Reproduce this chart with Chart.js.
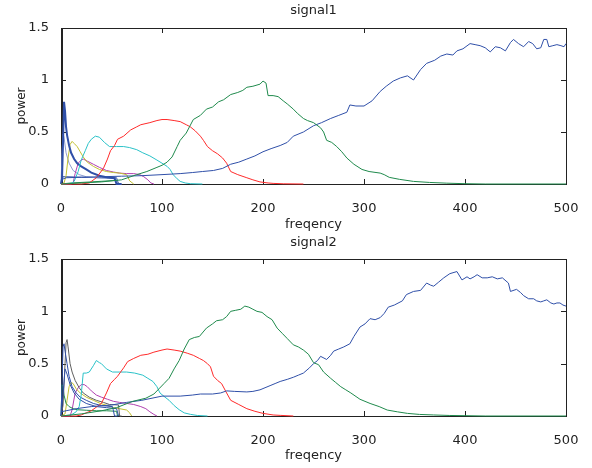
<!DOCTYPE html>
<html>
<head>
<meta charset="utf-8">
<script src="https://cdn.jsdelivr.net/npm/chart.js@4/dist/chart.umd.min.js"></script>
<style>
  body { margin: 0; background: #fff; }
  .box { position: absolute; left: 0; width: 592px; height: 234px; }
</style>
</head>
<body>
<div class="box" style="top:0"><canvas id="signal1-chart"></canvas></div>
<div class="box" style="top:234px"><canvas id="signal2-chart"></canvas></div>
<script>
// axis ticks
const freqTicks = [0, 100, 200, 300, 400, 500];
const powerTicks = [0, 0.5, 1, 1.5];

// ---- signal1 ----
const s1GreenFreq = [0,20,40,60,75,85,95,100,105,110,115,118,124,131,138,144,150,156,161,168,175,180,184,190,197,200,203,205,210,215,220,224,230,234,240,244,250,257,260,263,268,273,278,283,290,298,305,316,320,325,335,349,365,382,400,420,500];
const s1GreenPower = [0,0.01,0.02,0.04,0.09,0.12,0.16,0.18,0.21,0.26,0.36,0.42,0.49,0.62,0.66,0.72,0.74,0.79,0.81,0.86,0.88,0.90,0.93,0.94,0.96,0.99,0.97,0.85,0.85,0.84,0.80,0.77,0.72,0.68,0.63,0.61,0.59,0.54,0.50,0.42,0.40,0.36,0.31,0.25,0.19,0.14,0.12,0.105,0.09,0.064,0.045,0.025,0.015,0.008,0.003,0,0];

const s1BlueFreq = [0,5,20,40,60,80,100,118,130,140,151,160,168,176,184,192,200,208,217,224,230,240,250,258,267,275,283,286,292,300,308,316,322,329,336,343,349,356,362,370,376,382,388,392,398,405,410,415,420,425,430,435,440,445,448,453,458,463,467,471,475,478,481,483,487,491,495,498,500];
const s1BluePower = [0.04,0.06,0.065,0.07,0.075,0.08,0.09,0.10,0.11,0.12,0.13,0.15,0.19,0.21,0.24,0.27,0.31,0.34,0.37,0.40,0.46,0.50,0.56,0.59,0.63,0.66,0.69,0.76,0.75,0.75,0.80,0.89,0.94,0.99,1.02,1.04,1.00,1.10,1.16,1.19,1.23,1.25,1.24,1.28,1.30,1.35,1.34,1.33,1.31,1.27,1.32,1.31,1.28,1.36,1.39,1.35,1.32,1.37,1.35,1.30,1.31,1.39,1.39,1.32,1.33,1.34,1.33,1.32,1.35];

const s1RedFreq = [0,20,28,35,42,46,49,53,56,62,69,75,79,88,95,100,105,112,118,124,128,133,138,141,145,150,155,160,164,168,175,184,190,197,205,210,220,240];
const s1RedPower = [0,0,0.01,0.06,0.15,0.24,0.32,0.37,0.43,0.46,0.52,0.55,0.57,0.59,0.61,0.62,0.62,0.61,0.60,0.57,0.55,0.51,0.46,0.42,0.36,0.32,0.29,0.25,0.20,0.12,0.09,0.06,0.04,0.02,0.01,0.006,0.002,0];

const s1CyanFreq = [0,10,13,17,20,24,27,30,34,38,43,48,55,62,68,75,81,88,95,100,105,108,111,115,118,123,128,140];
const s1CyanPower = [0,0.005,0.025,0.12,0.23,0.32,0.39,0.43,0.46,0.45,0.40,0.36,0.36,0.36,0.35,0.33,0.30,0.27,0.23,0.20,0.17,0.14,0.09,0.05,0.025,0.01,0.003,0];

const s1SpikeFreq = [0,1,2,3,4,5,6,8,10,13,16,20,25,30,38,45,53,55,60];
const s1SpikePower = [0,0.05,0.4,0.79,0.7,0.55,0.47,0.37,0.30,0.24,0.20,0.17,0.14,0.11,0.08,0.065,0.055,0,0];

const s1YellowFreq = [0,3,5,7,9,11,13,16,19,22,26,32,38,45,52,58,65,68,72];
const s1YellowPower = [0,0.01,0.08,0.25,0.38,0.41,0.39,0.36,0.31,0.26,0.21,0.17,0.14,0.12,0.11,0.105,0.09,0.03,0];

const s1MagentaFreq = [0,10,12,14,17,20,22,26,32,38,45,52,58,65,72,78,82,86,89,92];
const s1MagentaPower = [0,0,0.01,0.1,0.2,0.23,0.24,0.22,0.19,0.16,0.13,0.115,0.105,0.10,0.10,0.09,0.07,0.04,0.01,0];

const s1PaleFreq = [0,1,2,3,5,8,12,18,25,35,45,55,56,60];
const s1PalePower = [0,0.3,0.48,0.45,0.3,0.2,0.13,0.09,0.07,0.06,0.055,0.05,0,0];

const s1FlatFreq = [0,2,5,20,40,55,57];
const s1FlatPower = [0,0.07,0.07,0.065,0.06,0.06,0];

const s1LowGreenFreq = [0,10,30,55,57];
const s1LowGreenPower = [0,0.01,0.02,0.035,0];

// ---- signal2 ----
const s2GreenFreq = [0,20,40,55,71,84,92,97,102,107,112,117,122,127,132,137,144,150,154,160,164,168,173,178,182,186,190,194,199,204,209,214,219,224,230,235,240,245,250,255,260,267,272,277,282,287,296,306,315,323,333,343,355,369,385,400,420,500];
const s2GreenPower = [0,0.02,0.05,0.08,0.14,0.17,0.21,0.26,0.31,0.36,0.45,0.53,0.64,0.73,0.75,0.76,0.84,0.88,0.91,0.92,0.95,1.00,1.01,1.02,1.05,1.04,1.02,1.00,0.99,0.95,0.92,0.84,0.79,0.74,0.68,0.66,0.63,0.59,0.51,0.49,0.42,0.36,0.32,0.28,0.25,0.22,0.16,0.12,0.09,0.057,0.04,0.025,0.015,0.01,0.005,0.003,0,0];

const s2BlueFreq = [0,5,15,30,50,65,80,100,118,130,138,150,158,164,172,184,190,197,202,207,212,217,224,230,235,240,246,250,254,257,263,267,270,275,280,286,290,296,301,306,311,316,320,324,330,338,342,349,356,362,366,369,374,379,385,392,397,402,405,409,412,417,422,427,432,437,443,445,451,455,458,463,468,471,475,478,481,485,488,491,494,497,500];
const s2BluePower = [0.04,0.05,0.07,0.09,0.105,0.13,0.15,0.19,0.19,0.20,0.21,0.21,0.22,0.24,0.235,0.23,0.235,0.25,0.27,0.29,0.31,0.33,0.35,0.37,0.39,0.41,0.46,0.50,0.53,0.57,0.54,0.58,0.62,0.64,0.66,0.69,0.76,0.85,0.88,0.93,0.92,0.94,0.98,1.04,1.06,1.10,1.16,1.19,1.20,1.27,1.25,1.24,1.28,1.32,1.36,1.38,1.30,1.33,1.31,1.33,1.35,1.32,1.32,1.33,1.31,1.32,1.27,1.19,1.21,1.18,1.15,1.12,1.12,1.10,1.09,1.10,1.11,1.08,1.07,1.08,1.08,1.06,1.05];

const s2RedFreq = [0,15,20,30,40,45,49,53,56,62,66,72,79,86,92,100,105,112,118,125,131,137,141,145,148,151,155,159,164,168,176,184,192,200,210,217,230];
const s2RedPower = [0,0,0.01,0.05,0.12,0.22,0.31,0.35,0.38,0.46,0.52,0.55,0.58,0.59,0.61,0.63,0.64,0.63,0.62,0.60,0.58,0.55,0.53,0.50,0.47,0.38,0.34,0.31,0.22,0.15,0.11,0.07,0.045,0.025,0.01,0.006,0];

const s2CyanFreq = [0,10,15,18,20,22,25,28,32,35,38,40,45,51,58,65,73,81,86,91,95,98,103,107,112,117,122,128,135,145];
const s2CyanPower = [0,0.01,0.04,0.09,0.2,0.41,0.41,0.42,0.48,0.53,0.51,0.50,0.45,0.42,0.42,0.42,0.41,0.39,0.36,0.33,0.28,0.22,0.18,0.15,0.10,0.06,0.03,0.016,0.005,0];

const s2SpikeFreq = [0,1,2,3,4,6,8,11,15,19,25,32,40,51,53,56];
const s2SpikePower = [0,0.3,0.66,0.69,0.62,0.50,0.38,0.28,0.22,0.18,0.15,0.12,0.10,0.09,0,0];

const s2Blue2Freq = [0,2,4,6,9,13,18,25,35,45,55,57];
const s2Blue2Power = [0,0.2,0.45,0.4,0.3,0.22,0.16,0.12,0.09,0.08,0.07,0];

const s2GrayFreq = [0,2,4,5,6,7,9,11,14,18,22,28,35,42,48,57,58,60];
const s2GrayPower = [0,0.1,0.5,0.7,0.73,0.66,0.50,0.42,0.34,0.27,0.22,0.18,0.15,0.13,0.11,0.105,0,0];

const s2LowGreenFreq = [0,1,2,3,5,8,12,16,25,35,45,55,56];
const s2LowGreenPower = [0,0.30,0.28,0.2,0.12,0.09,0.07,0.06,0.055,0.05,0.05,0.045,0];

const s2YellowFreq = [0,4,6,8,10,12,15,19,25,32,39,46,52,58,65,68,70];
const s2YellowPower = [0,0.02,0.15,0.28,0.32,0.31,0.26,0.22,0.18,0.15,0.12,0.10,0.08,0.07,0.057,0.03,0];

const s2MagentaFreq = [0,9,11,14,17,20,23,26,30,35,40,46,52,58,65,72,79,84,88,92,95];
const s2MagentaPower = [0,0,0.06,0.22,0.27,0.30,0.30,0.28,0.24,0.2,0.18,0.16,0.14,0.13,0.12,0.11,0.09,0.07,0.04,0.015,0];

const colors = {
    blue: '#2f4fa8', green: '#1f8a4c', red: '#ff2a2a', cyan: '#2ac2c8',
    magenta: '#b040b0', yellow: '#c2c030', gray: '#606060', pale: '#8a9ad0'
};

function series(freq, power, color, width) {
    return {
        data: freq.map((f, i) => ({ x: f, y: power[i] })),
        borderColor: color,
        borderWidth: width || 1,
        pointRadius: 0,
        tension: 0,
        clip: 3
    };
}

// MATLAB style box with inward ticks
const framePlugin = {
    id: 'frame',
    beforeDatasetsDraw(chart) {
        const { ctx, chartArea: a, scales } = chart;
        ctx.save();
        ctx.strokeStyle = '#222';
        ctx.lineWidth = 1;
        ctx.strokeRect(a.left + 0.5, a.top + 0.5, a.right - a.left, a.bottom - a.top);
        ctx.lineWidth = 2;
        ctx.beginPath();
        ctx.moveTo(a.left + 1, a.top);
        ctx.lineTo(a.left + 1, a.bottom + 1);
        ctx.stroke();
        ctx.lineWidth = 1;
        ctx.beginPath();
        freqTicks.slice(1, -1).forEach(v => {
            const x = Math.round(scales.x.getPixelForValue(v)) + 0.5;
            ctx.moveTo(x, a.bottom); ctx.lineTo(x, a.bottom - 5);
            ctx.moveTo(x, a.top); ctx.lineTo(x, a.top + 5);
        });
        powerTicks.slice(1, -1).forEach(v => {
            const y = Math.round(scales.y.getPixelForValue(v)) + 0.5;
            ctx.moveTo(a.left, y); ctx.lineTo(a.left + 5, y);
            ctx.moveTo(a.right, y); ctx.lineTo(a.right - 5, y);
        });
        ctx.stroke();
        ctx.restore();
    }
};

function makeChart(canvas, title, datasets, lay) {
    return new Chart(canvas.getContext('2d'), {
        type: 'line',
        data: { datasets: datasets },
        options: {
            responsive: true,
            maintainAspectRatio: false,
            animation: false,
            layout: { padding: { left: 0, right: 26, top: lay.top, bottom: 0 } },
            plugins: {
                legend: { display: false },
                tooltip: { enabled: false },
                title: {
                    display: true, text: title, fullSize: false, color: '#222',
                    font: { family: 'DejaVu Sans', size: 13, weight: 'normal' },
                    padding: { top: lay.titleTop, bottom: lay.titleBottom }
                }
            },
            scales: {
                x: {
                    type: 'linear', min: 0, max: 500,
                    grid: { display: false }, border: { display: false },
                    afterBuildTicks: s => { s.ticks = freqTicks.map(v => ({ value: v })); },
                    afterFit: s => { s.height = lay.xHeight; },
                    ticks: { color: '#222', padding: 9, font: { family: 'DejaVu Sans', size: 13 } },
                    title: {
                        display: true, text: 'freqency', color: '#222',
                        font: { family: 'DejaVu Sans', size: 13 },
                        padding: { top: 0, bottom: lay.xTitleBottom }
                    }
                },
                y: {
                    min: 0, max: 1.5,
                    grid: { display: false }, border: { display: false },
                    afterBuildTicks: s => { s.ticks = powerTicks.map(v => ({ value: v })); },
                    afterFit: s => { s.width = 61; },
                    ticks: {
                        color: '#222', padding: 4, font: { family: 'DejaVu Sans', size: 13 },
                        callback: v => String(v)
                    },
                    title: {
                        display: true, text: 'power', color: '#222',
                        font: { family: 'DejaVu Sans', size: 12 },
                        padding: { top: 15, bottom: 0 }
                    }
                }
            }
        },
        plugins: [framePlugin]
    });
}

makeChart(document.querySelector('#signal1-chart'), 'signal1', [
    series(s1GreenFreq, s1GreenPower, colors.green),
    series(s1BlueFreq, s1BluePower, colors.blue),
    series(s1RedFreq, s1RedPower, colors.red),
    series(s1CyanFreq, s1CyanPower, colors.cyan),
    series(s1SpikeFreq, s1SpikePower, colors.blue, 2),
    series(s1YellowFreq, s1YellowPower, colors.yellow),
    series(s1MagentaFreq, s1MagentaPower, colors.magenta),
    series(s1PaleFreq, s1PalePower, colors.pale),
    series(s1FlatFreq, s1FlatPower, colors.blue),
    series(s1LowGreenFreq, s1LowGreenPower, colors.green)
], { top: 0, titleTop: 3, titleBottom: 9.4, xHeight: 50, xTitleBottom: 2 });

makeChart(document.querySelector('#signal2-chart'), 'signal2', [
    series(s2GreenFreq, s2GreenPower, colors.green),
    series(s2BlueFreq, s2BluePower, colors.blue),
    series(s2RedFreq, s2RedPower, colors.red),
    series(s2CyanFreq, s2CyanPower, colors.cyan),
    series(s2SpikeFreq, s2SpikePower, colors.blue),
    series(s2Blue2Freq, s2Blue2Power, colors.blue),
    series(s2GrayFreq, s2GrayPower, colors.gray),
    series(s2LowGreenFreq, s2LowGreenPower, colors.green),
    series(s2YellowFreq, s2YellowPower, colors.yellow),
    series(s2MagentaFreq, s2MagentaPower, colors.magenta)
], { top: 0, titleTop: 1, titleBottom: 8.4, xHeight: 52, xTitleBottom: 5 });
</script>
</body>
</html>
